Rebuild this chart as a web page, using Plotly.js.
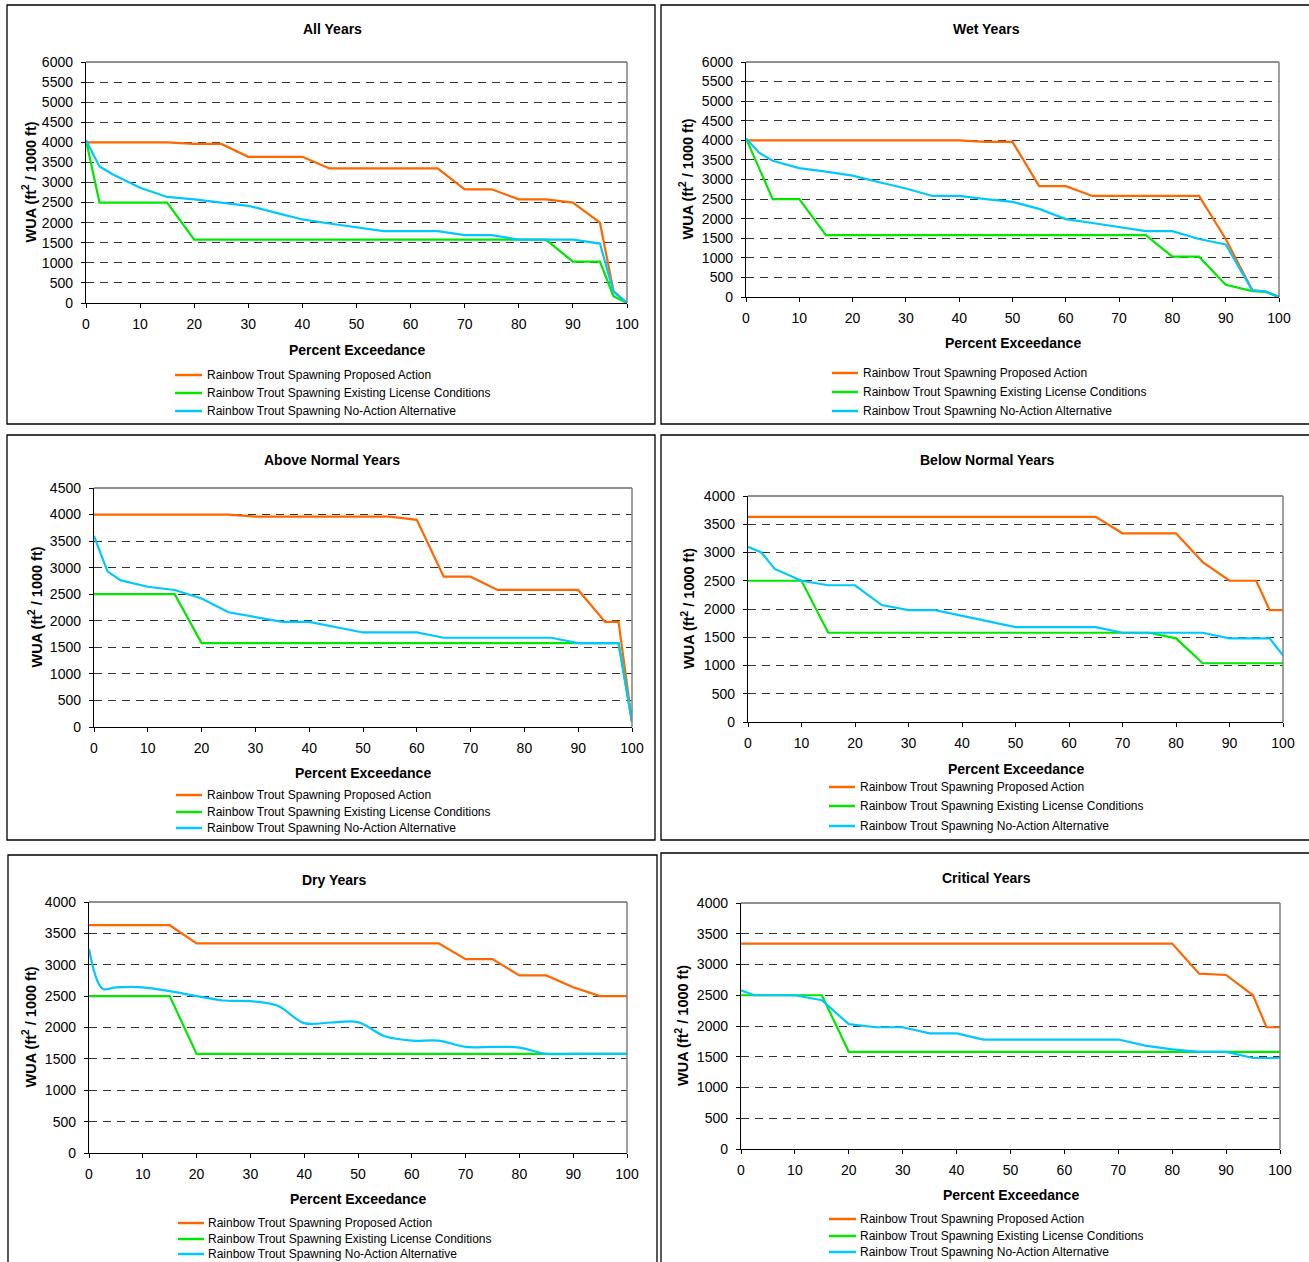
<!DOCTYPE html>
<html>
<head>
<meta charset="utf-8">
<script src="https://cdn.plot.ly/plotly-3.0.1.min.js"></script>
<style>html,body{margin:0;padding:0;background:#fff;}#chart{width:1309px;height:1262px;}</style>
</head>
<body>
<div id="chart"></div>
<script>
// ---------- DATA ----------
const exceedance = [0, 2.5, 5, 10, 15, 20, 25, 30, 35, 40, 45, 50, 55, 60, 65, 70, 75, 80, 85, 90, 95, 97.5, 100];

const seriesNames = [
  "Rainbow Trout Spawning Proposed Action",
  "Rainbow Trout Spawning Existing License Conditions",
  "Rainbow Trout Spawning No-Action Alternative"
];
const panelTitles = ["All Years", "Wet Years", "Above Normal Years", "Below Normal Years", "Dry Years", "Critical Years"];
const xAxisTitle = "Percent Exceedance";
const yAxisTitle = "WUA (ft<sup>2</sup> / 1000 ft)";

// All Years
const allProposed = [4000,4000,4000,4000,4000,3960,3960,3640,3640,3640,3350,3350,3350,3350,3350,2830,2830,2580,2580,2500,2000,300,0];
const allExisting = [4050,2500,2500,2500,2500,1580,1580,1580,1580,1580,1580,1580,1580,1580,1580,1580,1580,1580,1580,1030,1030,170,0];
const allNoAction = [4050,3400,3200,2870,2640,2580,2500,2420,2250,2080,1980,1890,1790,1790,1790,1690,1690,1580,1580,1580,1480,280,0];

// Wet Years
const wetProposed = [4000,4000,4000,4000,4000,4000,4000,4000,4000,4000,3960,3960,2830,2830,2580,2580,2580,2580,2580,1480,170,140,0];
const wetExisting = [4050,3280,2500,2500,1580,1580,1580,1580,1580,1580,1580,1580,1580,1580,1580,1580,1580,1030,1030,310,150,130,0];
const wetNoAction = [4050,3680,3480,3290,3200,3100,2930,2770,2580,2580,2500,2430,2250,1990,1890,1780,1680,1680,1480,1340,170,140,0];

// Above Normal Years
const anProposed = [4000,4000,4000,4000,4000,4000,4000,3960,3960,3960,3960,3960,3960,3900,2830,2830,2580,2580,2580,2580,1980,1980,100];
const anExisting = [2500,2500,2500,2500,2500,1580,1580,1580,1580,1580,1580,1580,1580,1580,1580,1580,1580,1580,1580,1580,1580,1580,100];
const anNoAction = [3600,2930,2760,2640,2580,2420,2160,2070,1980,1980,1880,1780,1780,1780,1680,1680,1680,1680,1680,1580,1580,1580,100];

// Below Normal Years
const bnProposed = [3630,3630,3630,3630,3630,3630,3630,3630,3630,3630,3630,3630,3630,3630,3630,3340,3340,3340,2830,2500,2500,1980,1980];
const bnExisting = [2500,2500,2500,2500,1580,1580,1580,1580,1580,1580,1580,1580,1580,1580,1580,1580,1580,1480,1040,1040,1040,1040,1040];
const bnNoAction = [3100,3000,2710,2500,2420,2420,2070,1980,1980,1880,1780,1680,1680,1680,1680,1580,1580,1580,1580,1480,1480,1480,1180];

// Dry Years
const dryProposed = [3630,3630,3630,3630,3630,3340,3340,3340,3340,3340,3340,3340,3340,3340,3340,3090,3090,2830,2830,2640,2500,2500,2500];
const dryExisting = [2500,2500,2500,2500,2500,1580,1580,1580,1580,1580,1580,1580,1580,1580,1580,1580,1580,1580,1580,1580,1580,1580,1580];
const dryNoAction = [3250,2620,2640,2640,2580,2500,2430,2420,2350,2070,2080,2085,1860,1790,1790,1690,1690,1680,1580,1580,1580,1580,1580];

// Critical Years
const critProposed = [3340,3340,3340,3340,3340,3340,3340,3340,3340,3340,3340,3340,3340,3340,3340,3340,3340,3340,2850,2830,2500,1980,1980];
const critExisting = [2500,2500,2500,2500,2500,1580,1580,1580,1580,1580,1580,1580,1580,1580,1580,1580,1580,1580,1580,1580,1580,1580,1580];
const critNoAction = [2580,2500,2500,2500,2420,2030,1980,1980,1880,1880,1780,1780,1780,1780,1780,1780,1680,1620,1580,1580,1480,1480,1480];

// ---------- STYLE / LAYOUT ----------
const W = 1309, H = 1262;
const FONT = "Liberation Sans, Arial, Helvetica, sans-serif";
const colors = ["#FF6600", "#00E800", "#00C8FF"];
const px = v => v / W;
const py = v => 1 - v / H;

const panels = [
  {title: panelTitles[0], ymax: 6000, plot: [86, 627, 62, 303], box: [7, 655, 5, 424], titleX: 332, titleY: 29, xTitleY: 350, yTitleX: 29,
   leg: [175, 202, 205], legY: [375, 393, 411], data: [allProposed, allExisting, allNoAction], smooth: false},
  {title: panelTitles[1], ymax: 6000, plot: [746, 1279, 62, 297], box: [661, 1315, 5, 424], titleX: 986, titleY: 29, xTitleY: 343, yTitleX: 687,
   leg: [832, 858, 861], legY: [373, 392, 411], data: [wetProposed, wetExisting, wetNoAction], smooth: false},
  {title: panelTitles[2], ymax: 4500, plot: [94, 632, 488, 727], box: [7, 655, 435, 840], titleX: 332, titleY: 460, xTitleY: 773, yTitleX: 35,
   leg: [176, 202, 205], legY: [795, 812, 828], data: [anProposed, anExisting, anNoAction], smooth: false},
  {title: panelTitles[3], ymax: 4000, plot: [748, 1283, 496, 722], box: [661, 1315, 435, 840], titleX: 987, titleY: 460, xTitleY: 769, yTitleX: 688,
   leg: [829, 855, 858], legY: [787, 806, 826], data: [bnProposed, bnExisting, bnNoAction], smooth: false},
  {title: panelTitles[4], ymax: 4000, plot: [89, 627, 902, 1153], box: [8, 657, 855, 1270], titleX: 334, titleY: 880, xTitleY: 1199, yTitleX: 29,
   leg: [178, 204, 206], legY: [1223, 1239, 1254], data: [dryProposed, dryExisting, dryNoAction], smooth: true},
  {title: panelTitles[5], ymax: 4000, plot: [741, 1280, 903, 1149], box: [661, 1315, 853, 1270], titleX: 986, titleY: 878, xTitleY: 1195, yTitleX: 682,
   leg: [829, 856, 858], legY: [1219, 1236, 1252], data: [critProposed, critExisting, critNoAction], smooth: false}
];

const traces = [];
const layout = {
  width: W, height: H,
  margin: {l: 0, r: 0, t: 0, b: 0},
  paper_bgcolor: "#ffffff", plot_bgcolor: "#ffffff",
  showlegend: false,
  font: {family: FONT, color: "#000"},
  shapes: [], annotations: []
};

panels.forEach((p, i) => {
  const n = i + 1;
  const xa = "x" + (n === 1 ? "" : n), ya = "y" + (n === 1 ? "" : n);
  const xk = "xaxis" + (n === 1 ? "" : n), yk = "yaxis" + (n === 1 ? "" : n);
  const [l, r, t, b] = p.plot;

  layout[xk] = {
    domain: [px(l), px(r)], anchor: ya, range: [0, 100], tick0: 0, dtick: 10,
    ticks: "outside", ticklen: 4, tickcolor: "#000", tickwidth: 1,
    showline: true, linecolor: "#000", linewidth: 1.2, mirror: false,
    showgrid: false, zeroline: false, fixedrange: true,
    tickfont: {family: FONT, size: 14, color: "#000"}, ticklabelstandoff: 4
  };
  layout[yk] = {
    domain: [py(b), py(t)], anchor: xa, range: [0, p.ymax], tick0: 0, dtick: 500,
    ticks: "outside", ticklen: 4, tickcolor: "#000", tickwidth: 1,
    showline: true, linecolor: "#000", linewidth: 1.2, mirror: false,
    showgrid: true, gridcolor: "#333333", gridwidth: 1, griddash: "8px,6px",
    zeroline: false, fixedrange: true,
    tickfont: {family: FONT, size: 14, color: "#000"}, ticklabelstandoff: 5
  };

  p.data.forEach((ys, k) => {
    traces.push({
      type: "scatter", mode: "lines", name: seriesNames[k],
      x: exceedance, y: ys, xaxis: xa, yaxis: ya,
      line: {color: colors[k], width: 2.2, shape: (p.smooth && k === 2) ? "spline" : "linear", smoothing: 1},
      hoverinfo: "x+y"
    });
  });

  // plot frame: top dark, right gray
  layout.shapes.push({type: "line", xref: xa + " domain", yref: ya + " domain", x0: 0, x1: 1, y0: 1, y1: 1, line: {color: "#222", width: 1.2}});
  layout.shapes.push({type: "line", xref: xa + " domain", yref: ya + " domain", x0: 1, x1: 1, y0: 0, y1: 1, line: {color: "#808080", width: 1.5}});

  // panel border box
  const [bl, br, bt, bb] = p.box;
  layout.shapes.push({type: "rect", xref: "paper", yref: "paper", x0: px(bl), x1: px(br), y0: py(bb), y1: py(bt),
    line: {color: "#000", width: 1.3}, fillcolor: "rgba(0,0,0,0)", layer: "below"});

  // titles
  layout.annotations.push({xref: "paper", yref: "paper", x: px(p.titleX), y: py(p.titleY), text: "<b>" + p.title + "</b>",
    showarrow: false, xanchor: "center", yanchor: "middle", font: {family: FONT, size: 14, color: "#000"}});
  layout.annotations.push({xref: "paper", yref: "paper", x: px((l + r) / 2), y: py(p.xTitleY), text: "<b>" + xAxisTitle + "</b>",
    showarrow: false, xanchor: "center", yanchor: "middle", font: {family: FONT, size: 14, color: "#000"}});
  layout.annotations.push({xref: "paper", yref: "paper", x: px(p.yTitleX), y: py((t + b) / 2), text: "<b>" + yAxisTitle + "</b>",
    textangle: -90, showarrow: false, xanchor: "center", yanchor: "middle", font: {family: FONT, size: 14.5, color: "#000"}});

  // legend (drawn manually)
  seriesNames.forEach((name, k) => {
    layout.shapes.push({type: "line", xref: "paper", yref: "paper", x0: px(p.leg[0]), x1: px(p.leg[1]), y0: py(p.legY[k]), y1: py(p.legY[k]),
      line: {color: colors[k], width: 2.5}});
    layout.annotations.push({xref: "paper", yref: "paper", x: px(p.leg[2]), y: py(p.legY[k]), text: name,
      showarrow: false, xanchor: "left", yanchor: "middle", font: {family: FONT, size: 12, color: "#000"}});
  });
});

Plotly.newPlot("chart", traces, layout, {displayModeBar: false, staticPlot: true});
</script>
</body>
</html>
